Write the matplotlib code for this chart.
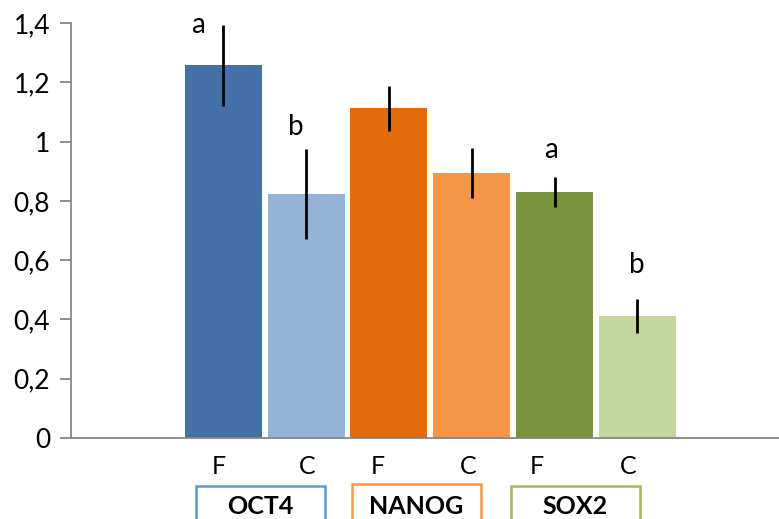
import matplotlib
matplotlib.use("Agg")
import matplotlib.pyplot as plt
from matplotlib.patches import Rectangle

plt.rcParams['font.family'] = ['Lato', 'DejaVu Sans']

# data
conditions = ["F", "C", "F", "C", "F", "C"]
genes = ["OCT4", "NANOG", "SOX2"]
values = [1.258, 0.823, 1.113, 0.894, 0.830, 0.412]
errors = [0.137, 0.152, 0.076, 0.084, 0.050, 0.056]
letters = ["a", "b", "", "", "a", "b"]
letter_y = [1.393, 1.049, None, None, 0.972, 0.584]

bar_colors = ["#4472A8", "#95B3D7", "#E36C0A", "#F79646", "#77933C", "#C3D69B"]
box_colors = ["#5B9BD5", "#F79646", "#9BBB59"]

fig = plt.figure(figsize=(7.79, 5.19), dpi=100)
ax = fig.add_axes([0.0911, 0.156, 0.9089, 0.7996])

x = list(range(len(values)))
ax.bar(x, values, width=0.93, color=bar_colors, zorder=2)
ax.errorbar(x, values, yerr=errors, fmt="none", ecolor="black",
            elinewidth=2.0, capsize=0, zorder=3)

letter_dx = [-0.30, -0.13, 0, 0, -0.04, -0.01]
for i, (lt, ly) in enumerate(zip(letters, letter_y)):
    if lt:
        ax.text(i + letter_dx[i], ly, lt, ha="center", va="center", fontsize=20)

ax.set_xlim(-1.84, 6.71)
ax.set_ylim(0, 1.4)
ax.set_yticks([0, 0.2, 0.4, 0.6, 0.8, 1.0, 1.2, 1.4])
ax.set_yticklabels(["0", "0,2", "0,4", "0,6", "0,8", "1", "1,2", "1,4"], fontsize=19)
ax.set_xticks([])

for side in ["top", "right"]:
    ax.spines[side].set_visible(False)
for side in ["left", "bottom"]:
    ax.spines[side].set_color("#868686")
    ax.spines[side].set_linewidth(1.3)
ax.tick_params(axis="y", direction="out", length=8, width=1.3, color="#868686", pad=7)

# F / C labels below the axis (slightly shifted as in the source chart)
label_dx = [-0.06, 0.01, -0.13, -0.04, -0.21, -0.11]
for i, lab in enumerate(conditions):
    ax.text(i + label_dx[i], -0.095, lab, ha="center", va="center", fontsize=18)

# gene boxes at the bottom
box_left = [196, 352, 511]
box_right = [325, 481, 640]
box_top = [486, 484, 486]
for g, l, r, t, c in zip(genes, box_left, box_right, box_top, box_colors):
    fig.patches.append(Rectangle((l / 779, -0.02), (r - l) / 779, (519 - t) / 519 + 0.02,
                                 transform=fig.transFigure, fill=False,
                                 edgecolor=c, linewidth=1.8))
    fig.text((l + r) / 2 / 779, 1 - 506 / 519, g, ha="center", va="center",
             fontsize=18, fontweight="bold")

fig.savefig("out.png", dpi=100)
